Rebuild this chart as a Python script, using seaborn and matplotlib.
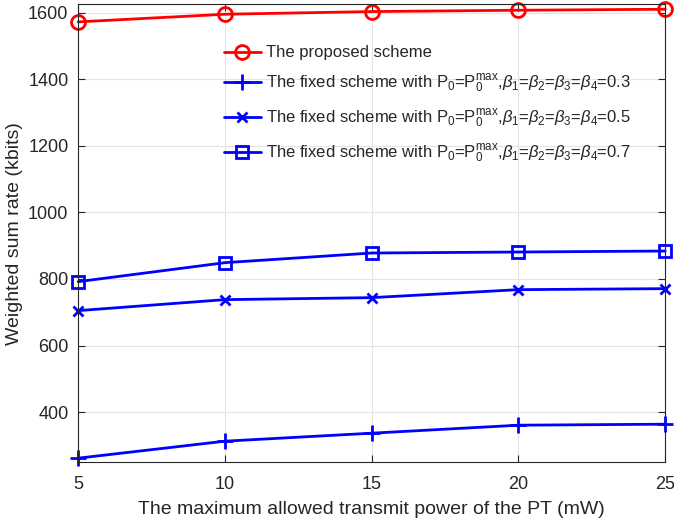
import numpy as np
import pandas as pd
import seaborn as sns
import matplotlib
matplotlib.use("Agg")
import matplotlib.pyplot as plt

# transmit power of the PT (mW)
power = [5, 10, 15, 20, 25]

proposed = [1572, 1595, 1603, 1607, 1610]
fixed_03 = [262, 313, 337, 361, 364]
fixed_05 = [705, 738, 744, 768, 771]
fixed_07 = [792, 849, 878, 881, 884]

fixed_tail = r",$\beta_1$=$\beta_2$=$\beta_3$=$\beta_4$="
fixed_head = r"The fixed scheme with P$_0$=P$_0^{\mathrm{max}}$"
labels = [
    "The proposed scheme",
    fixed_head + fixed_tail + "0.3",
    fixed_head + fixed_tail + "0.5",
    fixed_head + fixed_tail + "0.7",
]

sns.set_style("ticks")
plt.rcParams["font.family"] = ["Liberation Sans", "DejaVu Sans"]
plt.rcParams["mathtext.fontset"] = "custom"
plt.rcParams["mathtext.rm"] = "Liberation Sans"
plt.rcParams["mathtext.it"] = "Liberation Sans:italic"

df = pd.DataFrame({
    "power": power * 4,
    "rate": proposed + fixed_03 + fixed_05 + fixed_07,
    "scheme": [labels[0]] * 5 + [labels[1]] * 5 + [labels[2]] * 5 + [labels[3]] * 5,
})

fig = plt.figure(figsize=(6.74, 5.30), dpi=100)
ax = fig.add_axes([0.116, 0.128, 0.871, 0.864])

palette = {labels[0]: "#ff0000", labels[1]: "#0000ff", labels[2]: "#0000ff", labels[3]: "#0000ff"}
markers = {labels[0]: "o", labels[1]: "+", labels[2]: "x", labels[3]: "s"}
msizes = {"o": 10, "+": 11, "x": 7, "s": 8}

for lab in labels:
    sub = df[df["scheme"] == lab]
    m = markers[lab]
    sns.lineplot(data=sub, x="power", y="rate", ax=ax, color=palette[lab],
                 marker=m, markersize=msizes[m],
                 markerfacecolor="none", markeredgecolor=palette[lab],
                 markeredgewidth=2, linewidth=2, label=lab, clip_on=False)

ax.set_xlim(5, 25)
ax.set_ylim(250, 1625)
ax.set_xticks([5, 10, 15, 20, 25])
ax.set_yticks([400, 600, 800, 1000, 1200, 1400, 1600])
ax.grid(True, color="#e3e3e3", linewidth=0.8)
ax.set_axisbelow(True)
ax.tick_params(direction="in", top=True, right=True, labelsize=13, colors="#262626", length=5)
ax.tick_params(axis="x", pad=10)
ax.tick_params(axis="y", pad=7)
for sp in ax.spines.values():
    sp.set_visible(True)
    sp.set_color("#262626")
    sp.set_linewidth(0.8)

ax.set_xlabel("The maximum allowed transmit power of the PT (mW)", fontsize=14,
              color="#262626", labelpad=6)
ax.set_ylabel("Weighted sum rate (kbits)", fontsize=14, color="#262626")

ax.legend(loc="upper left", bbox_to_anchor=(0.223, 0.943), frameon=False, fontsize=12,
          handlelength=2.2, labelspacing=0.75, handletextpad=0.3)

fig.savefig("out.png", dpi=100)
